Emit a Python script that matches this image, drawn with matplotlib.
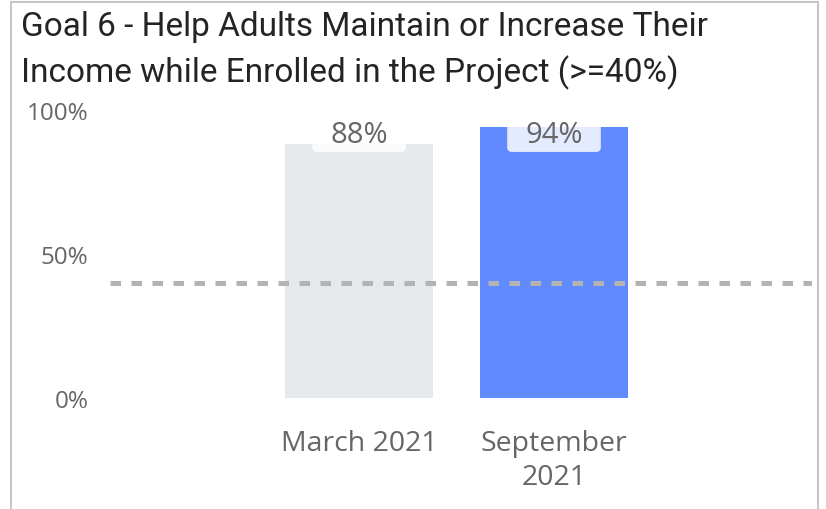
import matplotlib
matplotlib.use("Agg")
import matplotlib.pyplot as plt
from matplotlib.patches import Rectangle, FancyBboxPatch

# Chart data
periods = ["March 2021", "September\n2021"]
values = [88, 94]
target = 40
yticks = [0, 50, 100]
ytick_labels = ["0%", "50%", "100%"]
title_lines = [
    "Goal 6 - Help Adults Maintain or Increase Their",
    "Income while Enrolled in the Project (>=40%)",
]

bar_colors = ["#E6E9EC", "#618AFF"]
text_color = "#666666"
title_color = "#252423"
label_font = ["Open Sans", "DejaVu Sans"]
title_font = ["Roboto", "DejaVu Sans"]

W, H = 826, 510
fig = plt.figure(figsize=(W / 100, H / 100), dpi=100)
fig.patch.set_facecolor("white")

# axes placement in pixels: x 110..812, y(0)=399, y(100)=110.5
ax = fig.add_axes([110 / W, (H - 399) / H, 702 / W, (399 - 110.5) / H])
ax.set_facecolor("white")

x = list(range(len(periods)))
bars = ax.bar(x, values, width=0.76, color=bar_colors, zorder=2)

# target line
ax.axhline(target, color="#B3B3B3", linewidth=3.6, dashes=(2.1, 2.1),
           dash_capstyle="butt", zorder=3)

# data labels with a light rounded box clipped to the bar
label_y = 91.5
for xi, v, bar in zip(x, values, bars):
    box = FancyBboxPatch((xi - 0.24, label_y - 6.2), 0.48, 11.8,
                         boxstyle="round,pad=0,rounding_size=0.025",
                         facecolor="white", alpha=0.84, edgecolor="none",
                         mutation_aspect=60, zorder=4)
    ax.add_patch(box)
    box.set_clip_path(bar)
    ax.text(xi, label_y, f"{v}%", ha="center", va="center", fontsize=21,
            color=text_color, family=label_font, zorder=5)

ax.set_xlim(-1.277, 2.323)
ax.set_ylim(0, 100)
ax.set_yticks(yticks)
ax.set_yticklabels(ytick_labels, family=label_font, fontsize=17.5, color=text_color)
ax.set_xticks(x)
ax.set_xticklabels(periods, family=label_font, fontsize=20.5, color=text_color,
                   linespacing=1.3)
ax.tick_params(axis="y", length=0, pad=15.5)
ax.tick_params(axis="x", length=0, pad=22)
for spine in ax.spines.values():
    spine.set_visible(False)

# title
fig.text(21 / W, 1 - 36 / H, title_lines[0], family=title_font, fontsize=24,
         color=title_color, va="baseline", ha="left")
fig.text(21 / W, 1 - 82 / H, title_lines[1], family=title_font, fontsize=24,
         color=title_color, va="baseline", ha="left")

# card border (open at the bottom)
fig.add_artist(Rectangle((10.5 / W, -0.05), 807 / W, 1.05 - 2.5 / H,
                         transform=fig.transFigure, fill=False,
                         edgecolor="#C6C6C6", linewidth=1.5))

fig.savefig("out.png", dpi=100, facecolor="white")
